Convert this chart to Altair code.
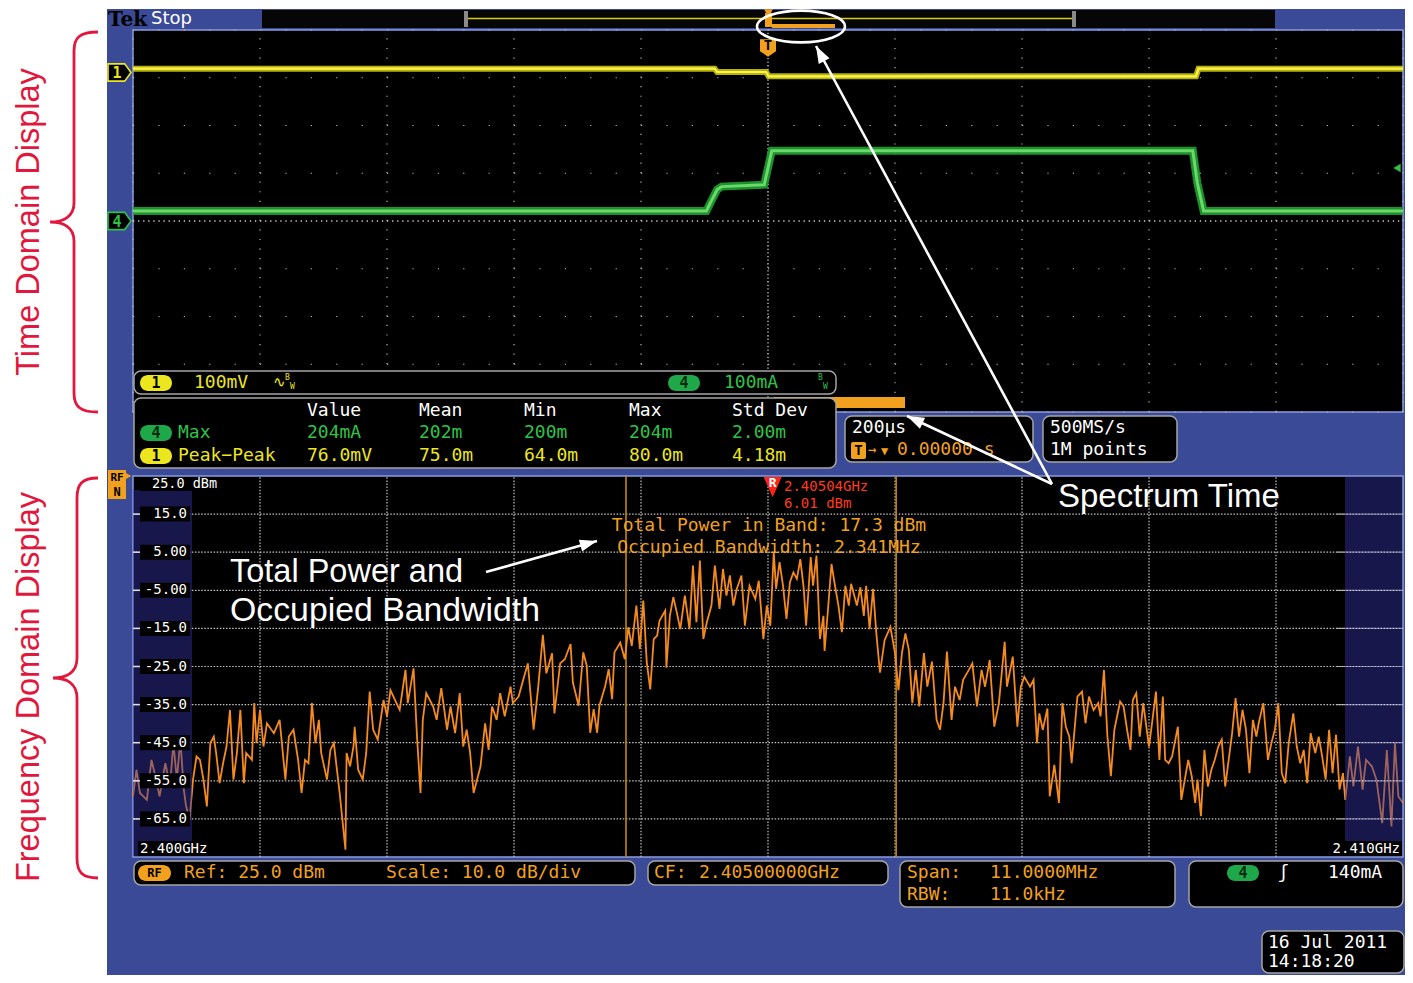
import math
import altair as alt
import pandas as pd

# ------------------------------------------------------------------
# Values
# ------------------------------------------------------------------
# Time domain: 200 us/div, trigger at t = 0
time_div_us = [-1000, -800, -600, -400, -200, 0, 200, 400, 600, 800, 1000]
vert_div = [-4, -3, -2, -1, 0, 1, 2, 3, 4]

ch1_time_us = [-1000, -84, -80, -3, 1, 674, 678, 1000]
ch1_mv = [9, 9, 2, 2, -7, -7, 9, 9]

ch4_time_us = [-1000, -97, -90, -80, -73, -6, 6, 669, 676, 686, 1000]
ch4_ma = [21, 21, 40, 66, 72, 76, 147, 147, 80, 21, 21]

# Frequency domain: span 11 MHz starting at 2.3995 GHz (offset in MHz), dBm
freq_div_mhz = [0, 1.1, 2.2, 3.3, 4.4, 5.5, 6.6, 7.7, 8.8, 9.9, 11.0]
dbm_levels = [25, 15, 5, -5, -15, -25, -35, -45, -55, -65, -75]
dbm_labels = ["25.0 dBm", "15.0", "5.00", "-5.00", "-15.0", "-25.0",
              "-35.0", "-45.0", "-55.0", "-65.0"]
obw_edges_mhz = [4.27, 6.61]
marker_mhz = 5.54

spectrum_points = [
    (0.00, -59.1), (0.03, -52.1), (0.06, -58.2), (0.12, -60.0), (0.16, -49.5), (0.20, -54.7),
    (0.23, -59.1), (0.28, -50.4), (0.32, -56.5), (0.35, -45.1), (0.38, -54.7), (0.41, -44.2),
    (0.44, -57.3), (0.46, -61.7), (0.49, -65.2), (0.52, -54.7), (0.55, -48.6), (0.58, -49.5),
    (0.61, -54.7), (0.64, -61.7), (0.67, -45.1), (0.70, -43.4), (0.72, -47.7), (0.75, -55.6),
    (0.78, -50.4), (0.81, -46.0), (0.84, -36.4), (0.87, -54.7), (0.90, -47.7), (0.93, -36.4),
    (0.96, -55.6), (0.98, -47.7), (1.03, -49.5), (1.05, -34.6), (1.07, -45.1), (1.10, -36.4),
    (1.13, -46.0), (1.16, -39.9), (1.22, -42.5), (1.27, -39.0), (1.32, -54.7), (1.35, -43.4),
    (1.39, -41.6), (1.43, -49.5), (1.46, -58.2), (1.49, -49.5), (1.52, -50.4), (1.55, -34.6),
    (1.58, -45.1), (1.61, -39.0), (1.63, -47.7), (1.68, -54.7), (1.71, -46.9), (1.74, -45.1),
    (1.76, -50.4), (1.79, -58.2), (1.84, -73.1), (1.85, -47.7), (1.88, -51.2), (1.91, -46.0),
    (1.92, -40.8), (1.95, -52.1), (1.99, -54.7), (2.02, -47.7), (2.05, -31.6), (2.08, -41.6),
    (2.12, -44.2), (2.17, -33.8), (2.20, -38.1), (2.23, -31.2), (2.27, -33.8), (2.31, -36.4),
    (2.36, -25.9), (2.38, -34.6), (2.43, -25.5), (2.46, -43.4), (2.49, -58.2), (2.51, -39.0),
    (2.54, -32.0), (2.60, -35.5), (2.63, -39.0), (2.67, -30.7), (2.72, -41.6), (2.75, -35.5),
    (2.79, -42.5), (2.83, -32.0), (2.86, -46.0), (2.89, -41.6), (2.92, -47.7), (2.95, -58.2),
    (2.98, -54.7), (3.01, -51.2), (3.05, -39.9), (3.08, -46.9), (3.11, -35.5), (3.15, -39.0),
    (3.18, -32.0), (3.22, -38.1), (3.27, -30.3), (3.29, -34.6), (3.34, -32.9), (3.38, -28.5),
    (3.42, -24.2), (3.47, -41.6), (3.51, -30.3), (3.55, -16.7), (3.58, -26.8), (3.63, -21.5),
    (3.65, -37.3), (3.70, -24.2),
    (3.74, -23.1), (3.79, -19.1), (3.81, -29.2), (3.86, -35.3), (3.90, -21.3), (3.93, -24.8),
    (3.96, -42.4), (3.99, -36.2), (4.02, -42.4), (4.04, -35.3), (4.09, -30.1), (4.12, -25.7),
    (4.15, -33.6), (4.17, -21.3), (4.22, -18.7), (4.26, -23.1), (4.29, -14.7), (4.32, -19.6),
    (4.36, -9.0), (4.39, -20.4), (4.42, -7.7), (4.45, -23.9), (4.48, -31.0), (4.51, -17.8),
    (4.54, -16.9), (4.56, -13.0), (4.61, -10.3), (4.62, -25.3), (4.65, -11.7), (4.68, -6.8),
    (4.71, -10.8), (4.74, -15.2), (4.78, -6.4), (4.82, -15.2), (4.85, 1.5), (4.88, -13.4),
    (4.91, 2.8), (4.94, -17.8), (4.97, -13.4), (5.01, -9.0), (5.04, 1.5), (5.08, -9.9),
    (5.11, 0.6), (5.14, -6.4), (5.17, -1.1), (5.20, -9.0), (5.23, -4.6), (5.27, -1.1),
    (5.30, -14.3), (5.34, -3.8), (5.39, -7.3), (5.42, -2.5), (5.46, -17.8), (5.49, -9.0),
    (5.52, -14.3), (5.55, 5.0), (5.57, -4.6), (5.60, 2.4), (5.63, -3.8), (5.66, -12.5),
    (5.69, -2.9), (5.72, -0.3), (5.75, -2.0), (5.78, 3.2), (5.81, -4.6), (5.83, -14.3),
    (5.87, 3.7), (5.89, -3.8), (5.92, 4.1), (5.95, -17.8), (5.98, -11.7), (5.99, -20.9),
    (6.02, -9.9), (6.05, 1.9), (6.08, -3.8), (6.11, -9.0), (6.14, -16.0), (6.17, -3.8),
    (6.20, -9.0), (6.22, -3.3), (6.27, -9.0), (6.30, -4.2), (6.33, -11.7), (6.35, -3.8),
    (6.38, -15.2), (6.41, -4.6), (6.44, -16.9), (6.47, -26.6),
    (6.51, -18.1), (6.56, -14.6), (6.60, -21.5), (6.63, -31.2), (6.66, -21.5), (6.69, -16.3),
    (6.72, -20.7), (6.75, -34.6), (6.78, -25.9), (6.81, -35.5), (6.85, -21.5), (6.88, -30.3),
    (6.92, -23.7), (6.96, -39.0), (6.99, -41.6), (7.02, -34.6), (7.05, -21.1), (7.09, -39.0),
    (7.12, -30.3), (7.16, -33.8), (7.19, -28.5), (7.24, -25.9), (7.27, -24.2), (7.31, -35.5),
    (7.35, -25.9), (7.38, -30.3), (7.42, -23.3), (7.46, -40.8), (7.50, -34.6), (7.55, -18.5),
    (7.57, -30.3), (7.62, -22.4), (7.66, -40.8), (7.69, -30.3), (7.72, -27.7), (7.77, -30.3),
    (7.80, -28.5), (7.83, -45.1), (7.85, -37.3), (7.88, -41.6), (7.92, -36.0), (7.94, -59.1),
    (7.97, -53.0), (7.98, -50.8), (8.02, -60.8), (8.05, -34.6), (8.08, -40.8), (8.11, -43.4),
    (8.13, -50.4), (8.18, -32.9), (8.22, -31.6), (8.25, -39.9), (8.28, -32.9), (8.32, -36.4),
    (8.36, -34.6), (8.38, -38.1), (8.41, -25.9), (8.44, -43.4), (8.47, -53.8), (8.50, -41.6),
    (8.55, -34.2), (8.58, -35.5), (8.61, -41.6), (8.64, -46.9), (8.66, -33.8), (8.69, -32.0),
    (8.72, -43.4), (8.75, -34.6), (8.80, -46.0), (8.83, -39.0), (8.86, -31.6), (8.89, -49.5),
    (8.92, -32.9), (8.94, -49.5), (8.97, -50.4), (9.00, -48.6), (9.05, -40.8), (9.08, -60.0),
    (9.11, -54.7), (9.14, -49.5), (9.17, -53.8), (9.20, -60.8), (9.22, -54.7), (9.25, -64.3),
    (9.28, -46.9), (9.31, -56.5), (9.34, -52.1), (9.37, -49.5), (9.40, -46.0), (9.43, -44.2),
    (9.46, -56.5), (9.49, -49.5), (9.52, -42.5), (9.55, -33.3), (9.58, -43.4), (9.61, -36.4),
    (9.64, -41.6), (9.67, -53.0), (9.70, -39.0), (9.73, -43.4), (9.75, -39.9), (9.79, -34.6),
    (9.83, -49.5), (9.86, -45.1), (9.89, -41.6), (9.92, -34.6), (9.95, -53.0), (9.98, -55.6),
    (10.01, -45.1), (10.05, -37.3), (10.08, -46.0), (10.11, -50.4), (10.14, -46.9), (10.17, -55.6),
    (10.20, -42.5), (10.24, -47.7), (10.27, -43.4), (10.30, -48.6), (10.33, -54.7), (10.36, -41.6),
    (10.39, -53.0), (10.42, -42.9), (10.45, -57.3), (10.48, -53.0), (10.50, -60.0), (10.54, -48.6),
    (10.57, -56.5), (10.61, -46.0), (10.65, -57.3), (10.68, -49.5), (10.73, -51.2), (10.77, -54.7),
    (10.82, -66.1), (10.86, -46.9), (10.90, -67.0), (10.93, -45.1), (10.96, -59.1), (11.00, -60.8),
]

# ------------------------------------------------------------------
# Styles
# ------------------------------------------------------------------
TEK = "DejaVu Sans Mono"
ANN = "Liberation Sans"
BLUE = "#3a4a97"
YEL = "#ece61e"
GRN = "#2fc24a"
ORG = "#f2a11f"
SPEC = "#f58a1f"
RED_ANN = "#e2173d"
MARK_RED = "#ff3a1c"
FRAME = "#8a9ce0"
BOXLINE = "#a5a5a5"


def PX():
    return alt.Scale(domain=[8, 1405], range=[0, 1397], nice=False, zero=False)


def PY():
    return alt.Scale(domain=[8, 975], range=[0, 967], nice=False, zero=False)


def TX():
    return alt.Scale(domain=[-1000, 1000], range=[125, 1395], nice=False, zero=False)


def YD():
    return alt.Scale(domain=[-4, 4], range=[404, 22], nice=False, zero=False)


def Y1():
    return alt.Scale(domain=[-710, 90], range=[404, 22], nice=False, zero=False)


def Y4():
    return alt.Scale(domain=[-400, 400], range=[404, 22], nice=False, zero=False)


def FX():
    return alt.Scale(domain=[0, 11], range=[125, 1395], nice=False, zero=False)


def FY():
    return alt.Scale(domain=[-75, 25], range=[849, 468], nice=False, zero=False)


def rect_layer(rows, **mark):
    df = pd.DataFrame(rows, columns=["x", "x2", "y", "y2", "fill"])
    return alt.Chart(df).mark_rect(**mark).encode(
        x=alt.X("x:Q", scale=PX(), axis=None), x2="x2:Q",
        y=alt.Y("y:Q", scale=PY(), axis=None), y2="y2:Q",
        fill=alt.Fill("fill:N", scale=None))


def seg_layer(rows, **mark):
    df = pd.DataFrame(rows, columns=["x", "y", "x2", "y2"])
    return alt.Chart(df).mark_rule(**mark).encode(
        x=alt.X("x:Q", scale=PX(), axis=None), y=alt.Y("y:Q", scale=PY(), axis=None),
        x2="x2:Q", y2="y2:Q")


def text_layer(rows, font=TEK, align="left", weight="normal", angle=0, baseline="middle"):
    df = pd.DataFrame(rows, columns=["x", "y", "text", "color", "size"])
    return alt.Chart(df).mark_text(font=font, align=align, baseline=baseline,
                                   fontWeight=weight, angle=angle).encode(
        x=alt.X("x:Q", scale=PX(), axis=None), y=alt.Y("y:Q", scale=PY(), axis=None),
        text="text:N", color=alt.Color("color:N", scale=None),
        size=alt.Size("size:Q", scale=None))


def shape_layer(rows, path, **mark):
    df = pd.DataFrame(rows, columns=["x", "y", "size", "angle"])
    return alt.Chart(df).mark_point(shape=path, opacity=1, **mark).encode(
        x=alt.X("x:Q", scale=PX(), axis=None), y=alt.Y("y:Q", scale=PY(), axis=None),
        size=alt.Size("size:Q", scale=None), angle=alt.Angle("angle:Q", scale=None))


layers = []

# ---------------- background panels ----------------
layers.append(rect_layer([
    (107, 1407, 9, 983, BLUE),
    (262, 1275, 10, 28, "#060606"),
]))
layers.append(rect_layer([
    (133, 1403, 30, 412, "#000000"),
    (133, 1403, 476, 857, "#000000"),
], stroke=FRAME, strokeWidth=1.5))

# record-view bar on top
layers.append(seg_layer([(466, 18.5, 1074, 18.5)], color="#d9cc10", strokeWidth=1.5))
layers.append(rect_layer([
    (464, 468, 11, 27, "#8a8a8a"), (1072, 1076, 11, 27, "#8a8a8a"),
    (765, 772, 13, 27, ORG), (772, 835, 24, 28, ORG),
]))
layers.append(shape_layer([(768.5, 13, 80, 0)], "triangle-down", fill=ORG, filled=True, strokeWidth=0))

# ---------------- time-domain graticule ----------------
tg = pd.DataFrame({"t": time_div_us, "lo": -4, "hi": 4})
layers.append(alt.Chart(tg[(tg.t != 0)]).mark_rule(color="#b8b8b8", strokeWidth=1.2,
                                                   strokeDash=[1.2, 8.35]).encode(
    x=alt.X("t:Q", scale=TX(), axis=None), y=alt.Y("lo:Q", scale=YD(), axis=None), y2="hi:Q"))
layers.append(alt.Chart(tg[(tg.t == 0)]).mark_rule(color="#d0d0d0", strokeWidth=1.3,
                                                   strokeDash=[1.3, 2.3]).encode(
    x=alt.X("t:Q", scale=TX(), axis=None), y=alt.Y("lo:Q", scale=YD(), axis=None), y2="hi:Q"))
vg = pd.DataFrame({"v": vert_div, "lo": -1000, "hi": 1000})
layers.append(alt.Chart(vg[(vg.v != 0)]).mark_rule(color="#b8b8b8", strokeWidth=1.2,
                                                   strokeDash=[1.2, 24.2]).encode(
    y=alt.Y("v:Q", scale=YD(), axis=None), x=alt.X("lo:Q", scale=TX(), axis=None), x2="hi:Q"))
layers.append(alt.Chart(vg[(vg.v == 0)]).mark_rule(color="#d0d0d0", strokeWidth=1.3,
                                                   strokeDash=[1.3, 3.78]).encode(
    y=alt.Y("v:Q", scale=YD(), axis=None), x=alt.X("lo:Q", scale=TX(), axis=None), x2="hi:Q"))

# ---------------- frequency-domain graticule ----------------
fg = pd.DataFrame({"f": freq_div_mhz[1:-1], "lo": -75, "hi": 25})
layers.append(alt.Chart(fg).mark_rule(color="#c4c4c4", strokeWidth=1.2, strokeDash=[1.5, 1.6]).encode(
    x=alt.X("f:Q", scale=FX(), axis=None), y=alt.Y("lo:Q", scale=FY(), axis=None), y2="hi:Q"))
lg = pd.DataFrame({"d": dbm_levels[1:-1], "lo": 0, "hi": 11})
layers.append(alt.Chart(lg).mark_rule(color="#c4c4c4", strokeWidth=1.2, strokeDash=[1.5, 1.6]).encode(
    y=alt.Y("d:Q", scale=FY(), axis=None), x=alt.X("lo:Q", scale=FX(), axis=None), x2="hi:Q"))

# occupied-bandwidth cursors
ob = pd.DataFrame({"f": obw_edges_mhz, "lo": -75, "hi": 25})
layers.append(alt.Chart(ob).mark_rule(color="#c3860f", strokeWidth=1.6).encode(
    x=alt.X("f:Q", scale=FX(), axis=None), y=alt.Y("lo:Q", scale=FY(), axis=None), y2="hi:Q"))

# ---------------- traces ----------------
c1 = pd.DataFrame({"t": ch1_time_us, "v": ch1_mv})
layers.append(alt.Chart(c1).mark_line(color="#c9c412", strokeWidth=6, opacity=0.9).encode(
    x=alt.X("t:Q", scale=TX(), axis=None), y=alt.Y("v:Q", scale=Y1(), axis=None)))
layers.append(alt.Chart(c1).mark_line(color="#fbf54a", strokeWidth=2.2).encode(
    x=alt.X("t:Q", scale=TX(), axis=None), y=alt.Y("v:Q", scale=Y1(), axis=None)))
c4 = pd.DataFrame({"t": ch4_time_us, "v": ch4_ma})
layers.append(alt.Chart(c4).mark_line(color="#1f9a2e", strokeWidth=8, opacity=0.95).encode(
    x=alt.X("t:Q", scale=TX(), axis=None), y=alt.Y("v:Q", scale=Y4(), axis=None)))
layers.append(alt.Chart(c4).mark_line(color="#6ad86a", strokeWidth=3).encode(
    x=alt.X("t:Q", scale=TX(), axis=None), y=alt.Y("v:Q", scale=Y4(), axis=None)))

sp = pd.DataFrame(spectrum_points, columns=["f", "dbm"])
layers.append(alt.Chart(sp).mark_line(color=SPEC, strokeWidth=1.8).encode(
    x=alt.X("f:Q", scale=FX(), axis=None), y=alt.Y("dbm:Q", scale=FY(), axis=None)))

# shaded edge bands of spectrum display
layers.append(rect_layer([
    (133, 192, 490, 856, "#3434a8"),
    (1345, 1402, 477, 856, "#3434a8"),
], opacity=0.45))
# grid stays bright inside the right band
rg = pd.DataFrame({"d": dbm_levels[1:-1], "lo": 10.43, "hi": 11})
layers.append(alt.Chart(rg).mark_rule(color="#d0d0d0", strokeWidth=1.2, strokeDash=[1.5, 1.6]).encode(
    y=alt.Y("d:Q", scale=FY(), axis=None), x=alt.X("lo:Q", scale=FX(), axis=None), x2="hi:Q"))

# dBm labels
lab = pd.DataFrame({"d": dbm_levels[1:-1], "txt": dbm_labels[1:], "x0": 0.0, "tick": 0.06,
                    "xa": 140, "xb": 190})
layers.append(alt.Chart(lab).mark_rect(color="black", height=15).encode(
    x=alt.X("xa:Q", scale=PX(), axis=None), x2="xb:Q",
    y=alt.Y("d:Q", scale=FY(), axis=None)))
layers.append(alt.Chart(lab).mark_rule(color="#e0e0e0", strokeWidth=1.5).encode(
    x=alt.X("x0:Q", scale=FX(), axis=None), x2="tick:Q", y=alt.Y("d:Q", scale=FY(), axis=None)))
layers.append(alt.Chart(lab).mark_text(font=TEK, fontSize=14, color="white", align="right",
                                       baseline="middle").encode(
    x=alt.value(179), y=alt.Y("d:Q", scale=FY(), axis=None), text="txt:N"))

layers.append(rect_layer([
    (140, 218, 477, 491, "#000000"),
    (138, 212, 841, 856, "#000000"),
    (1330, 1402, 841, 856, "#000000"),
]))
layers.append(text_layer([
    (152, 484, dbm_labels[0], "#ffffff", 13.5),
    (140, 849, "2.400GHz", "#ffffff", 14),
    (784, 487, "2.40504GHz", MARK_RED, 14),
    (784, 504, "6.01 dBm", MARK_RED, 14),
]))
layers.append(text_layer([(1400, 849, "2.410GHz", "#ffffff", 14)], align="right"))

# reference marker R
mk = pd.DataFrame({"f": [marker_mhz], "y": [486], "lbl": ["R"]})
layers.append(alt.Chart(mk).mark_point(shape="M -1 -1 L 1 -1 L 0 1.25 Z", size=324, filled=True,
                                       fill="#ff2418", strokeWidth=0, opacity=1).encode(
    x=alt.X("f:Q", scale=FX(), axis=None), y=alt.Y("y:Q", scale=PY(), axis=None)))
layers.append(alt.Chart(mk).mark_text(font=TEK, fontSize=13, fontWeight="bold", color="white",
                                      baseline="middle", align="center").encode(
    x=alt.X("f:Q", scale=FX(), axis=None), y=alt.value(475), text="lbl:N"))

layers.append(text_layer([
    (769, 526, "Total Power in Band: 17.3 dBm", ORG, 18),
    (769, 548, "Occupied Bandwidth: 2.341MHz", ORG, 18),
], align="center"))

# ---------------- readout boxes ----------------
layers.append(rect_layer([(774, 905, 397, 408, ORG)]))
layers.append(rect_layer([
    (134, 836, 371, 394, "#000000"),
    (134, 836, 398, 468, "#000000"),
    (845, 1033, 416, 462, "#000000"),
    (1043, 1177, 416, 462, "#000000"),
    (134, 635, 861, 885, "#000000"),
    (648, 888, 861, 885, "#000000"),
    (900, 1175, 861, 907, "#000000"),
    (1189, 1403, 861, 907, "#000000"),
    (1262, 1404, 931, 973, "#000000"),
], cornerRadius=7, stroke=BOXLINE, strokeWidth=1.5))

# channel badges
layers.append(rect_layer([
    (140, 172, 375, 391, YEL), (140, 172, 448, 464, YEL),
    (668, 700, 375, 391, "#1fa84a"), (140, 172, 425, 441, "#1fa84a"),
    (1227, 1259, 865, 881, "#1fa84a"), (138, 171, 865, 881, ORG),
], cornerRadius=8))
layers.append(rect_layer([(851, 866, 442, 459, ORG)], cornerRadius=2))
layers.append(text_layer([
    (156, 383, "1", "#000000", 15), (156, 456, "1", "#000000", 15),
    (684, 383, "4", "#0a2a10", 15), (156, 433, "4", "#0a2a10", 15),
    (1243, 873, "4", "#0a2a10", 15), (154.5, 873, "RF", "#000000", 12),
    (858.5, 450.5, "T", "#000000", 14),
], align="center", weight="bold"))

layers.append(text_layer([
    (194, 383, "100mV", YEL, 18), (273, 382, "∿", YEL, 15),
    (285, 378, "B", YEL, 8), (290, 387, "W", YEL, 8),
    (724, 383, "100mA", GRN, 18), (818, 378, "B", GRN, 8), (823, 387, "W", GRN, 8),
    (307, 411, "Value", "#ffffff", 18), (419, 411, "Mean", "#ffffff", 18),
    (524, 411, "Min", "#ffffff", 18), (629, 411, "Max", "#ffffff", 18),
    (732, 411, "Std Dev", "#ffffff", 18),
    (178, 433, "Max", GRN, 18), (307, 433, "204mA", GRN, 18), (419, 433, "202m", GRN, 18),
    (524, 433, "200m", GRN, 18), (629, 433, "204m", GRN, 18), (732, 433, "2.00m", GRN, 18),
    (178, 456, "Peak−Peak", YEL, 18), (307, 456, "76.0mV", YEL, 18), (419, 456, "75.0m", YEL, 18),
    (524, 456, "64.0m", YEL, 18), (629, 456, "80.0m", YEL, 18), (732, 456, "4.18m", YEL, 18),
    (852, 428, "200µs", "#ffffff", 18),
    (868, 450, "→", ORG, 14), (881, 451, "▼", ORG, 12), (897, 450, "0.00000 s", ORG, 18),
    (1050, 428, "500MS/s", "#ffffff", 18), (1050, 450, "1M points", "#ffffff", 18),
    (184, 873, "Ref: 25.0 dBm", ORG, 18), (386, 873, "Scale: 10.0 dB/div", ORG, 18),
    (654, 873, "CF:", ORG, 18), (699, 873, "2.40500000GHz", ORG, 18),
    (907, 873, "Span:", ORG, 18), (990, 873, "11.0000MHz", ORG, 18),
    (907, 895, "RBW:", ORG, 18), (990, 895, "11.0kHz", ORG, 18),
    (1278, 873, "ʃ", "#ffffff", 18), (1328, 873, "140mA", "#ffffff", 18),
    (1268, 943, "16 Jul  2011", "#ffffff", 18), (1268, 962, "14:18:20", "#ffffff", 18),
]))

# header text
layers.append(text_layer([(108, 20, "Tek", "#000000", 20)], font="DejaVu Serif", weight="bold"))
layers.append(text_layer([(151, 19, "Stop", "#ffffff", 18)], font="DejaVu Sans"))

# ---------------- channel / trigger markers ----------------
pent_right = "M -1 -0.75 L 0.45 -0.75 L 1 0 L 0.45 0.75 L -1 0.75 Z"
layers.append(shape_layer([(119.5, 72.5, 529, 0)], pent_right, fill="#000000", filled=True,
                          stroke=YEL, strokeWidth=1.6))
layers.append(shape_layer([(119.5, 221, 529, 0)], pent_right, fill="#000000", filled=True,
                          stroke=GRN, strokeWidth=1.6))
layers.append(text_layer([(117, 73, "1", YEL, 15)], align="center", weight="bold"))
layers.append(text_layer([(117, 221.5, "4", GRN, 15)], align="center", weight="bold"))

layers.append(shape_layer([(768, 48, 256, 0)], "M -1 -1.1 L 1 -1.1 L 1 0.4 L 0 1.1 L -1 0.4 Z",
                          fill=ORG, filled=True, strokeWidth=0))
layers.append(text_layer([(768, 46, "T", "#000000", 14)], align="center", weight="bold"))
layers.append(shape_layer([(1397, 168, 70, 0)], "triangle-left", fill=GRN, filled=True, strokeWidth=0))

layers.append(rect_layer([(108, 126, 470, 499, ORG)]))
layers.append(shape_layer([(128, 476, 60, 0)], "triangle-right", fill=ORG, filled=True, strokeWidth=0))
layers.append(text_layer([(117, 477.5, "RF", "#000000", 11), (117, 491.5, "N", "#000000", 12)],
                         align="center", weight="bold"))

# ---------------- annotations ----------------
brace_time = ("M 0.126 -1 C 0.03 -1 0 -0.97 0 -0.9 L 0 -0.1 C 0 -0.025 -0.06 0 -0.126 0 "
              "C -0.06 0 0 0.025 0 0.1 L 0 0.9 C 0 0.97 0.03 1 0.126 1")
brace_freq = ("M 0.105 -1 C 0.025 -1 0 -0.97 0 -0.9 L 0 -0.1 C 0 -0.025 -0.055 0 -0.12 0 "
              "C -0.055 0 0 0.025 0 0.1 L 0 0.9 C 0 0.97 0.025 1 0.105 1")
layers.append(shape_layer([(74, 222, 380 ** 2, 0)], brace_time, filled=False, stroke=RED_ANN,
                          strokeWidth=2.8))
layers.append(shape_layer([(77, 678, 400 ** 2, 0)], brace_freq, filled=False, stroke=RED_ANN,
                          strokeWidth=2.8))
layers.append(text_layer([
    (39, 222, "Time Domain Display", RED_ANN, 32.5),
    (39, 687, "Frequency Domain Display", RED_ANN, 32.5),
], font=ANN, align="center", angle=270, baseline="alphabetic"))

layers.append(text_layer([
    (1058, 507, "Spectrum Time", "#ffffff", 33),
    (230, 582, "Total Power and", "#ffffff", 32.5),
    (230, 621, "Occupied Bandwidth", "#ffffff", 33.8),
], font=ANN, baseline="alphabetic"))

arrows = [(1052, 484, 816, 46), (1052, 484, 907, 416), (486, 572, 597, 541)]
layers.append(seg_layer(arrows, color="#ffffff", strokeWidth=2.6))
heads = []
for (x0, y0, x1, y1) in arrows:
    ang = math.degrees(math.atan2(x1 - x0, -(y1 - y0))) % 360
    heads.append((x1, y1, 600, ang))
layers.append(shape_layer(heads, "M 0 0 L -0.5 1.4 L 0.5 1.4 Z", fill="#ffffff", filled=True,
                          strokeWidth=0))
ellipse = ("M -1 0 C -1 -0.199 -0.5523 -0.36 0 -0.36 C 0.5523 -0.36 1 -0.199 1 0 "
           "C 1 0.199 0.5523 0.36 0 0.36 C -0.5523 0.36 -1 0.199 -1 0 Z")
layers.append(shape_layer([(801, 26.5, 88 ** 2, 0)], ellipse, filled=False, stroke="#ffffff",
                          strokeWidth=2.6))

chart = alt.layer(*layers).resolve_scale(x="independent", y="independent").properties(
    width=1397, height=967, padding=0,
    autosize=alt.AutoSizeParams(type="none"), background="white"
).configure_view(stroke=None)

chart.save("out.html", embed_options={"renderer": "svg", "actions": False})
